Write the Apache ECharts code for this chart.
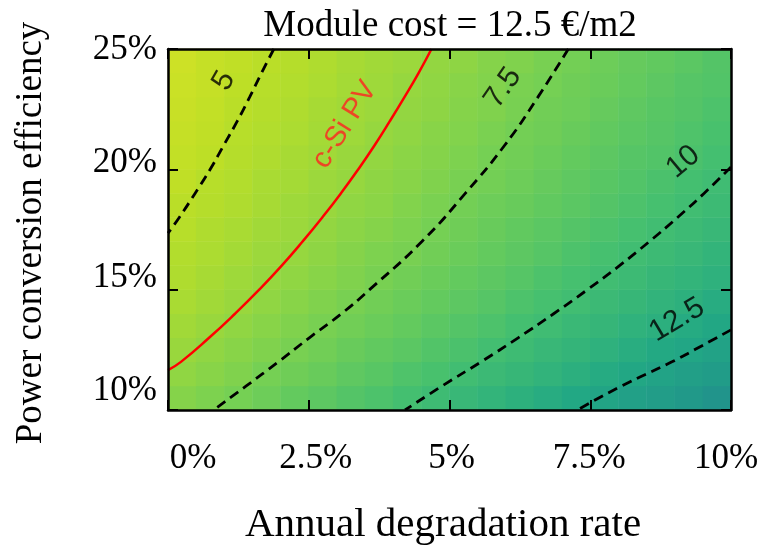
<!DOCTYPE html>
<html><head><meta charset="utf-8">
<script src="https://cdn.jsdelivr.net/npm/echarts@6/dist/echarts.min.js"></script>
<style>html,body{margin:0;padding:0;background:#fff}#c{width:763px;height:554px}</style>
</head><body><div id="c"></div>
<script>
// ---- data ----
const degradationCenters = [0.25,0.75,1.25,1.75,2.25,2.75,3.25,3.75,4.25,4.75,5.25,5.75,6.25,6.75,7.25,7.75,8.25,8.75,9.25,9.75];
const efficiencyCenters = [10.5,11.5,12.5,13.5,14.5,15.5,16.5,17.5,18.5,19.5,20.5,21.5,22.5,23.5,24.5];
// estimated cost values, one row per efficiency (bottom to top), columns by degradation
const costRows = [
  [6.9,7.2,7.5,7.9,8.3,8.6,9.0,9.3,9.7,10.1,10.5,10.9,11.3,11.7,12.1,12.5,12.9,13.3,13.7,14.2],
  [6.5,6.8,7.1,7.5,7.8,8.1,8.5,8.8,9.2,9.5,9.9,10.3,10.6,11.0,11.4,11.8,12.2,12.6,13.0,13.4],
  [6.2,6.5,6.8,7.1,7.4,7.7,8.1,8.4,8.7,9.1,9.4,9.8,10.1,10.5,10.8,11.2,11.6,12.0,12.3,12.7],
  [5.9,6.2,6.5,6.8,7.1,7.4,7.7,8.0,8.3,8.7,9.0,9.3,9.7,10.0,10.4,10.7,11.1,11.4,11.8,12.2],
  [5.6,5.9,6.2,6.5,6.8,7.1,7.4,7.7,8.0,8.3,8.6,8.9,9.3,9.6,9.9,10.3,10.6,11.0,11.3,11.7],
  [5.4,5.7,6.0,6.3,6.5,6.8,7.1,7.4,7.7,8.0,8.3,8.6,8.9,9.3,9.6,9.9,10.2,10.6,10.9,11.2],
  [5.3,5.5,5.8,6.1,6.3,6.6,6.9,7.2,7.4,7.7,8.0,8.3,8.6,8.9,9.3,9.6,9.9,10.2,10.5,10.9],
  [5.1,5.4,5.6,5.9,6.1,6.4,6.7,6.9,7.2,7.5,7.8,8.1,8.4,8.7,9.0,9.3,9.6,9.9,10.2,10.5],
  [5.0,5.2,5.4,5.7,6.0,6.2,6.5,6.7,7.0,7.3,7.6,7.9,8.1,8.4,8.7,9.0,9.3,9.6,9.9,10.2],
  [4.8,5.1,5.3,5.6,5.8,6.1,6.3,6.6,6.8,7.1,7.4,7.6,7.9,8.2,8.5,8.8,9.1,9.4,9.7,10.0],
  [4.7,4.9,5.2,5.4,5.7,5.9,6.2,6.4,6.7,6.9,7.2,7.5,7.7,8.0,8.3,8.6,8.9,9.1,9.4,9.7],
  [4.6,4.8,5.1,5.3,5.5,5.8,6.0,6.3,6.5,6.8,7.0,7.3,7.6,7.8,8.1,8.4,8.7,8.9,9.2,9.5],
  [4.5,4.7,5.0,5.2,5.4,5.7,5.9,6.1,6.4,6.6,6.9,7.1,7.4,7.7,7.9,8.2,8.5,8.8,9.0,9.3],
  [4.4,4.6,4.9,5.1,5.3,5.5,5.8,6.0,6.3,6.5,6.8,7.0,7.3,7.5,7.8,8.0,8.3,8.6,8.9,9.1],
  [4.3,4.6,4.8,5.0,5.2,5.4,5.7,5.9,6.1,6.4,6.6,6.9,7.1,7.4,7.6,7.9,8.2,8.4,8.7,9.0]
];
const contour5    = [[1.88,25],[1.66,24],[1.45,23],[1.23,22],[0.99,21],[0.75,20],[0.48,19],[0.20,18],[0,17.35]];
const contour7_5  = [[7.11,25],[6.57,23],[5.98,21],[5.28,19],[4.51,17],[3.58,15],[3.08,14],[2.51,13],[1.96,12],[1.39,11],[0.81,10]];
const contour10   = [[10.0,20.1],[9.52,19],[9.05,18],[8.55,17],[8.02,16],[7.45,15],[6.85,14],[6.22,13],[5.56,12],[4.87,11],[4.21,10]];
const contour12_5 = [[10.0,13.33],[9.35,12.5],[8.95,12],[8.06,11],[7.27,10]];
const cSiPV       = [[4.68,25],[4.45,24],[4.20,23],[3.94,22],[3.67,21],[3.38,20],[3.07,19],[2.74,18],[2.39,17],[2.02,16],[1.62,15],[1.19,14],[0.73,13],[0.23,12],[0,11.66]];
const contourLabels = [
  {text:'5', pos:[0.995,23.67], rotate:60},
  {text:'7.5', pos:[5.95,23.38], rotate:55},
  {text:'10', pos:[9.15,20.31], rotate:40},
  {text:'12.5', pos:[9.04,13.74], rotate:31}
];
const cSiLabel = {text:'c-Si PV', pos:[3.14,21.85], rotate:58};
const xTicks = [0,2.5,5,7.5,10];
const yTicks = [10,15,20,25];
const titleText = 'Module cost = 12.5 €/m2';
const xTitle = 'Annual degradation rate';
const yTitle = 'Power conversion efficiency';

// ---- chart ----
const heatData = [];
costRows.forEach((row, j) => row.forEach((v, i) => heatData.push([i, j, v])));

const viridisRev = ['#fde725','#bddf26','#7ad151','#44bf70','#22a884','#21918c','#2a788e','#355f8d','#414487','#482475','#440154'];
const serif = '"Liberation Serif","Times New Roman",serif';
const sans = '"Liberation Sans",Arial,sans-serif';

const xOff = {0:25, 2.5:7, 5:2, 7.5:-1, 10:-5};
const yOff = {25:1, 20:-7, 15:-12, 10:-19};
const xRich = {}, yRich = {};
xTicks.forEach((t, k) => {
  const s = xOff[t];
  xRich['x' + k] = {fontFamily: serif, fontSize: 35, color: '#000',
    padding: [0, s < 0 ? -2 * s : 0, 0, s > 0 ? 2 * s : 0]};
});
yTicks.forEach((t, k) => {
  const s = yOff[t];
  yRich['y' + k] = {fontFamily: serif, fontSize: 35, color: '#000',
    padding: [s > 0 ? 2 * s : 0, 0, s < 0 ? -2 * s : 0, 0]};
});

const lineBase = {type: 'line', xAxisIndex: 0, yAxisIndex: 0, symbol: 'none', smooth: 0.5, z: 5, silent: true};
const dashed = {color: '#000', width: 2.8, type: [10, 6]};

const chart = echarts.init(document.getElementById('c'), null, {renderer: 'canvas'});
chart.setOption({
  animation: false,
  backgroundColor: '#fff',
  grid: {left: 168, top: 49, right: 32, bottom: 144},
  graphic: [
    {type: 'text', x: 450, y: 26, z: 20, style: {text: titleText, font: '37px ' + serif, fill: '#000', textAlign: 'center', textVerticalAlign: 'middle'}},
    {type: 'text', x: 443, y: 525, z: 20, style: {text: xTitle, font: '41px ' + serif, fill: '#000', textAlign: 'center', textVerticalAlign: 'middle'}},
    {type: 'text', x: 31, y: 233, rotation: Math.PI / 2, z: 20, style: {text: yTitle, font: '37px ' + serif, fill: '#000', textAlign: 'center', textVerticalAlign: 'middle'}}
  ],
  visualMap: {type: 'continuous', show: false, min: 2.5, max: 26.5, seriesIndex: 0, dimension: 2, inRange: {color: viridisRev}},
  xAxis: [
    {type: 'value', position: 'bottom', min: 0, max: 10, interval: 2.5, z: 10,
      axisLine: {show: true, onZero: false, lineStyle: {color: '#000', width: 2.5}},
      axisTick: {show: true, inside: true, length: 10, lineStyle: {color: '#000', width: 2}},
      splitLine: {show: false},
      axisLabel: {show: true, margin: 31, showMinLabel: true, showMaxLabel: true,
        formatter: v => { const k = xTicks.indexOf(v); return '{x' + k + '|' + v + '%}'; }, rich: xRich}},
    {type: 'value', position: 'top', min: 0, max: 10, interval: 2.5, z: 10,
      axisLine: {show: true, onZero: false, lineStyle: {color: '#000', width: 2.5}},
      axisTick: {show: true, inside: true, length: 10, lineStyle: {color: '#000', width: 2}},
      splitLine: {show: false}, axisLabel: {show: false}},
    {type: 'category', data: degradationCenters.map(String), show: false, boundaryGap: true}
  ],
  yAxis: [
    {type: 'value', position: 'left', min: 10, max: 25, interval: 5, z: 10,
      axisLine: {show: true, onZero: false, lineStyle: {color: '#000', width: 2.5}},
      axisTick: {show: true, inside: true, length: 10, lineStyle: {color: '#000', width: 2}},
      splitLine: {show: false},
      axisLabel: {show: true, margin: 11, showMinLabel: true, showMaxLabel: true,
        formatter: v => { const k = yTicks.indexOf(v); return '{y' + k + '|' + v + '%}'; }, rich: yRich}},
    {type: 'value', position: 'right', min: 10, max: 25, interval: 5, z: 10,
      axisLine: {show: true, onZero: false, lineStyle: {color: '#000', width: 2.5}},
      axisTick: {show: true, inside: true, length: 10, lineStyle: {color: '#000', width: 2}},
      splitLine: {show: false}, axisLabel: {show: false}},
    {type: 'category', data: efficiencyCenters.map(String), show: false, boundaryGap: true}
  ],
  series: [
    {type: 'heatmap', xAxisIndex: 2, yAxisIndex: 2, data: heatData, silent: true, itemStyle: {borderWidth: 0}, z: 1},
    Object.assign({}, lineBase, {data: contour5, lineStyle: dashed}),
    Object.assign({}, lineBase, {data: contour7_5, lineStyle: dashed}),
    Object.assign({}, lineBase, {data: contour10, lineStyle: dashed}),
    Object.assign({}, lineBase, {data: contour12_5, lineStyle: dashed}),
    Object.assign({}, lineBase, {data: cSiPV, lineStyle: {color: '#ff0000', width: 2.5}}),
    {type: 'scatter', xAxisIndex: 0, yAxisIndex: 0, symbolSize: 0, z: 6, silent: true,
      data: contourLabels.map(l => ({value: l.pos, label: {show: true, position: 'inside', formatter: l.text, rotate: l.rotate,
        fontFamily: sans, fontSize: 30, color: '#000'}})).concat([
        {value: cSiLabel.pos, label: {show: true, position: 'inside', formatter: cSiLabel.text, rotate: cSiLabel.rotate,
          fontFamily: sans, fontSize: 29, color: '#ff2020'}}])}
  ]
});
</script></body></html>
